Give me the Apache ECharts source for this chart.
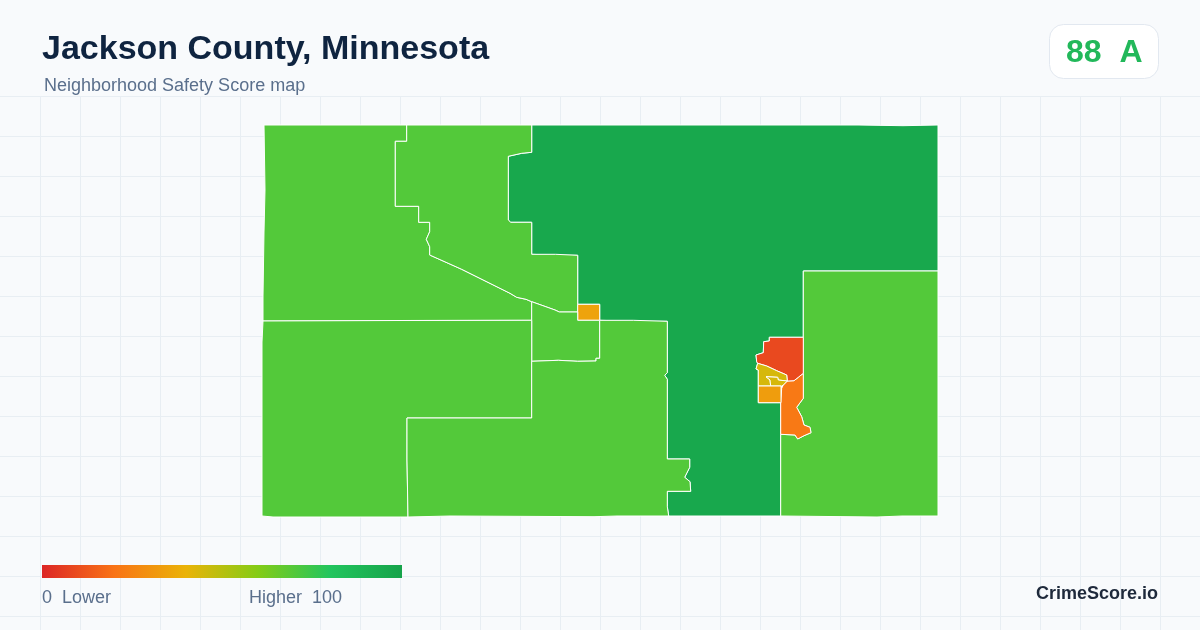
<!DOCTYPE html>
<html><head><meta charset="utf-8">
<style>html,body{margin:0;padding:0;background:#f8fafc}#c{width:1200px;height:630px}</style>
<script src="https://cdn.jsdelivr.net/npm/echarts@6/dist/echarts.min.js"></script>
</head><body><div id="c"></div>
<script>
const titleText = "Jackson County, Minnesota";
const subtitleText = "Neighborhood Safety Score map";
const scoreText = "88  A";
const brandText = "CrimeScore.io";
const legendLow = "0  Lower";
const legendHigh = "Higher  100";
const scaleMin = 0, scaleMax = 100;
const rampColors = ["#dc2626","#f97316","#eab308","#84cc16","#22c55e","#16a34a"];

const areaNames = ["North Central","Northwest","North Middle","Crossroads","Mid Block","Southwest","South Middle","East","East Town","Town Core","Town South","Town Center","Town West"];
const areaScores = [97,70,70,35,70,70,70,70,22,9,44,44,33];
// Area outlines in map units (x east, y south from the county's NW corner)
const ringNorthCentral = [[269.7,0],[596,0],[596,.7],[641,.7],[641,0],[676,0],[676,146],[541.3,146],[541.3,212.3],[507.3,212.3],[507.3,216],[501.7,216.7],[501.3,227.7],[494,230],[494.7,236.7],[495.7,238.3],[494,244],[496.3,245],[496.3,277.7],[518.7,277.7],[518.7,391],[406.7,391],[405.3,381.7],[405.3,366.3],[428.7,366.3],[428,356.7],[422.7,352.3],[427.7,342.3],[427.7,334],[405.3,334],[405.3,254.3],[402.7,250.3],[405.3,247.7],[405.3,196.3],[372,196.3],[371.3,195.3],[337.7,195.3],[337.7,179.3],[315.7,179.3],[315.7,130.3],[294.7,130.3],[293.7,129.3],[269.7,129.3],[269.7,97.3],[248.7,97.3],[246.3,95],[246.3,31.3],[259.7,28.3],[269.7,27.3]];
const ringNorthwest = [[2,0],[144.7,0],[144.7,16.3],[133.3,16.3],[133.3,81.3],[156.7,81.3],[156.7,97.3],[167.7,97.3],[167.7,106.7],[164.3,114.3],[167.7,121.7],[167.7,130],[199.7,144.3],[248,168.3],[254.7,172.3],[264,174.3],[269.7,176.7],[269.7,195.3],[136,195.5],[1,196],[1,171],[2,171],[2,107],[3,107],[3,65],[2,65]];
const ringNorthMiddle = [[144.7,0],[269.7,0],[269.7,27.3],[259.7,28.3],[246.3,31.3],[246.3,95],[248.7,97.3],[269.7,97.3],[269.7,129.3],[293.7,129.3],[294.7,130.3],[315.7,130.3],[315.7,179.3],[315.7,187],[297.3,187],[293,185],[269.7,176.7],[264,174.3],[254.7,172.3],[248,168.3],[199.7,144.3],[167.7,130],[167.7,121.7],[164.3,114.3],[167.7,106.7],[167.7,97.3],[156.7,97.3],[156.7,81.3],[133.3,81.3],[133.3,16.3],[144.7,16.3]];
const ringCrossroads = [[315.7,179.3],[337.7,179.3],[337.7,195.3],[315.7,195.3]];
const ringMidBlock = [[269.7,176.7],[293,185],[297.3,187],[315.7,187],[315.7,195.3],[337.7,195.3],[337.7,233.3],[334,233.3],[334,236],[315.7,236.3],[296.3,235.3],[269.7,236.3],[269.7,195.3]];
const ringSouthwest = [[1,196],[136,195.5],[269.7,195.3],[269.7,293],[145,293],[145,335],[146,392],[11,392],[11,391],[0,391],[0,217],[1,217]];
const ringSouthMiddle = [[337.7,195.3],[371.3,195.3],[372,196.3],[405.3,196.3],[405.3,247.7],[402.7,250.3],[405.3,254.3],[405.3,334],[427.7,334],[427.7,342.3],[422.7,352.3],[428,356.7],[428.7,366.3],[405.3,366.3],[405.3,381.7],[406.7,391],[355,391],[355,391.7],[332,391.7],[332,391],[188,391],[188,391.7],[146,392],[145,335],[145,293],[269.7,293],[269.7,236.3],[296.3,235.3],[315.7,236.3],[334,236],[334,233.3],[337.7,233.3]];
const ringEast = [[541.3,146],[676,146],[676,391],[640,391],[640,392],[615,392],[615,391],[518.7,391],[518.7,309.3],[533,310],[535.7,314],[542,310.7],[549,307.7],[548,302.3],[542,300],[539.7,291.7],[534.7,282.3],[541.3,273.3],[541.3,248.3]];
const ringEastTown = [[541.3,248.3],[541.3,273.3],[534.7,282.3],[539.7,291.7],[542,300],[548,302.3],[549,307.7],[542,310.7],[535.7,314],[533,310],[518.7,309.3],[518.7,277.7],[519.7,263.3],[521.3,260],[525.3,256],[532,255.7],[536.3,252.3]];
const ringTownCore = [[507.3,212.3],[541.3,212.3],[541.3,248.3],[536.3,252.3],[532,255.7],[525.3,256],[524.7,250],[514.7,245.7],[504.7,241],[495.7,238.3],[494.7,236.7],[494,230],[501.3,227.7],[501.7,216.7],[507.3,216]];
const ringTownSouth = [[495.7,238.3],[504.7,241],[514.7,245.7],[524.7,250],[525.3,256],[516.3,255],[515.7,252.3],[504,251.7],[508,255],[508.7,261],[496.3,261],[496.3,245],[494,244]];
const ringTownCenter = [[504,251.7],[515.7,252.3],[516.3,255],[525.3,256],[521.3,260],[519.7,261],[508.7,261],[508,255]];
const ringTownWest = [[496.3,261],[519,261],[519,277.7],[496.3,277.7]];
const areaRings = [ringNorthCentral,ringNorthwest,ringNorthMiddle,ringCrossroads,ringMidBlock,ringSouthwest,ringSouthMiddle,ringEast,ringEastTown,ringTownCore,ringTownSouth,ringTownCenter,ringTownWest];

echarts.registerMap("jackson", {
  type: "FeatureCollection",
  features: areaNames.map((name, i) => ({
    type: "Feature",
    properties: { name },
    geometry: { type: "Polygon", coordinates: [areaRings[i].concat([areaRings[i][0]])] }
  }))
});

const FONT = '"Liberation Sans", Arial, sans-serif';
const grid = [];
for (let x = 40.5; x < 1200; x += 40) grid.push({type:"line",silent:true,z:0,shape:{x1:x,y1:96,x2:x,y2:630},style:{stroke:"#e8eef3",lineWidth:1}});
for (let y = 96.5; y < 630; y += 40) grid.push({type:"line",silent:true,z:0,shape:{x1:0,y1:y,x2:1200,y2:y},style:{stroke:"#e8eef3",lineWidth:1}});

const rampStops = rampColors.map((color, i) => ({offset: i / (rampColors.length - 1), color}));

const chart = echarts.init(document.getElementById("c"), null, {renderer:"canvas"});
chart.setOption({
  backgroundColor: "#f8fafc",
  animation: false,
  tooltip: {show:false},
  visualMap: {
    type: "continuous", show: false, min: scaleMin, max: scaleMax,
    inRange: {color: rampColors}, seriesIndex: 0
  },
  series: [{
    type: "map", map: "jackson", roam: false, silent: true,
    projection: { project: p => p, unproject: p => p },
    left: 262, top: 125, width: 676, height: 392,
    itemStyle: { borderColor: "#ffffff", borderWidth: 1, areaColor: "#56c93c" },
    label: {show:false}, select: {disabled:true},
    data: areaNames.map((name,i) => ({name, value: areaScores[i]}))
  }],
  graphic: grid.concat([
    {type:"rect",z:10,shape:{x:42,y:565,width:360,height:13},style:{fill:new echarts.graphic.LinearGradient(0,0,1,0,rampStops)}},
    {type:"text",z:10,left:42,top:33,style:{text:titleText,font:'bold 34px '+FONT,fill:"#0f2440"}},
    {type:"text",z:10,left:44,top:77,style:{text:subtitleText,font:'18px '+FONT,fill:"#5a6f8c"}},
    {type:"rect",z:10,shape:{x:1049.5,y:24.5,width:109,height:54,r:14},style:{fill:"#ffffff",stroke:"#e2e8f0",lineWidth:1}},
    {type:"text",z:11,left:1066,top:37,style:{text:scoreText,font:'bold 32px '+FONT,fill:"#22b85a"}},
    {type:"text",z:10,left:42,top:589,style:{text:legendLow,font:'18px '+FONT,fill:"#5a6f8c"}},
    {type:"text",z:10,left:249,top:589,style:{text:legendHigh,font:'18px '+FONT,fill:"#5a6f8c"}},
    {type:"text",z:10,right:42,top:585,style:{text:brandText,font:'bold 18px '+FONT,fill:"#1e293b"}}
  ])
});
</script></body></html>
